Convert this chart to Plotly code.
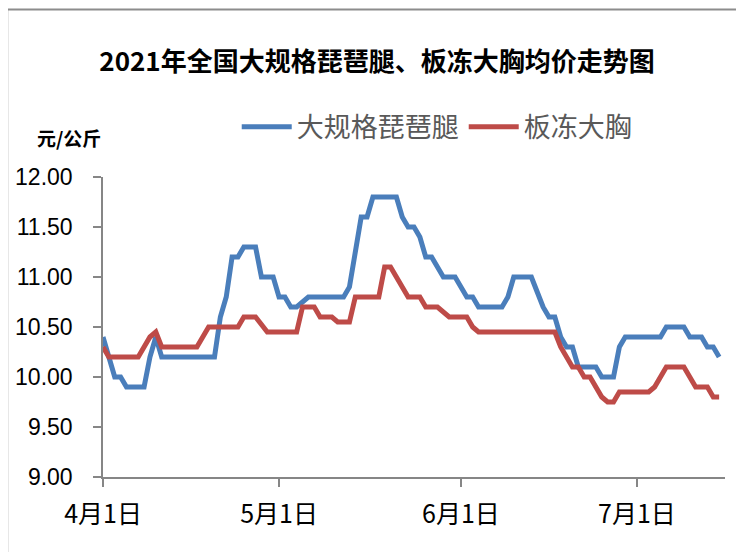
import plotly.graph_objects as go

# 大规格琵琶腿 (blue) – breakpoints
leg_dates = ["2021-04-01", "2021-04-03", "2021-04-04", "2021-04-05", "2021-04-08", "2021-04-09",
             "2021-04-10", "2021-04-11", "2021-04-20", "2021-04-21", "2021-04-22", "2021-04-23",
             "2021-04-24", "2021-04-25", "2021-04-27", "2021-04-28", "2021-04-30", "2021-05-01",
             "2021-05-02", "2021-05-03", "2021-05-04", "2021-05-06", "2021-05-12", "2021-05-13",
             "2021-05-15", "2021-05-16", "2021-05-17", "2021-05-21", "2021-05-22", "2021-05-23",
             "2021-05-24", "2021-05-25", "2021-05-26", "2021-05-27", "2021-05-28", "2021-05-29",
             "2021-05-31", "2021-06-01", "2021-06-02", "2021-06-03", "2021-06-04", "2021-06-08",
             "2021-06-09", "2021-06-10", "2021-06-13", "2021-06-14", "2021-06-15", "2021-06-16",
             "2021-06-17", "2021-06-18", "2021-06-19", "2021-06-20", "2021-06-21", "2021-06-24",
             "2021-06-25", "2021-06-27", "2021-06-28", "2021-06-29", "2021-07-05", "2021-07-06",
             "2021-07-09", "2021-07-10", "2021-07-12", "2021-07-13", "2021-07-14", "2021-07-15"]
leg_values = [10.40, 10.00, 10.00, 9.90, 9.90, 10.20,
              10.40, 10.20, 10.20, 10.60, 10.80, 11.20,
              11.20, 11.30, 11.30, 11.00, 11.00, 10.80,
              10.80, 10.70, 10.70, 10.80, 10.80, 10.90,
              11.60, 11.60, 11.80, 11.80, 11.60, 11.50,
              11.50, 11.40, 11.20, 11.20, 11.10, 11.00,
              11.00, 10.90, 10.80, 10.80, 10.70, 10.70,
              10.80, 11.00, 11.00, 10.85, 10.70, 10.60,
              10.60, 10.40, 10.30, 10.30, 10.10, 10.10,
              10.00, 10.00, 10.30, 10.40, 10.40, 10.50,
              10.50, 10.40, 10.40, 10.30, 10.30, 10.20]

# 板冻大胸 (red)
breast_dates = ["2021-04-01", "2021-04-02", "2021-04-07", "2021-04-09", "2021-04-10", "2021-04-11",
                "2021-04-17", "2021-04-19", "2021-04-24", "2021-04-25", "2021-04-27", "2021-04-29",
                "2021-05-04", "2021-05-05", "2021-05-07", "2021-05-08", "2021-05-10", "2021-05-11",
                "2021-05-13", "2021-05-14", "2021-05-18", "2021-05-19", "2021-05-20", "2021-05-23",
                "2021-05-25", "2021-05-26", "2021-05-28", "2021-05-29", "2021-05-30", "2021-06-02",
                "2021-06-03", "2021-06-04", "2021-06-17", "2021-06-18", "2021-06-20", "2021-06-21",
                "2021-06-22", "2021-06-23", "2021-06-24", "2021-06-25", "2021-06-26", "2021-06-27",
                "2021-06-28", "2021-07-03", "2021-07-04", "2021-07-06", "2021-07-09", "2021-07-11",
                "2021-07-13", "2021-07-14", "2021-07-15"]
breast_values = [10.30, 10.20, 10.20, 10.40, 10.45, 10.30,
                 10.30, 10.50, 10.50, 10.60, 10.60, 10.45,
                 10.45, 10.70, 10.70, 10.60, 10.60, 10.55,
                 10.55, 10.80, 10.80, 11.10, 11.10, 10.80,
                 10.80, 10.70, 10.70, 10.65, 10.60, 10.60,
                 10.50, 10.45, 10.45, 10.30, 10.10, 10.10,
                 10.00, 10.00, 9.90, 9.80, 9.75, 9.75,
                 9.85, 9.85, 9.90, 10.10, 10.10, 9.90,
                 9.90, 9.80, 9.80]

series_names = ["大规格琵琶腿", "板冻大胸"]
x_tick_vals = ["2021-04-01", "2021-05-01", "2021-06-01", "2021-07-01"]
x_tick_text = ["4月1日", "5月1日", "6月1日", "7月1日"]
y_tick_vals = [9.0, 9.5, 10.0, 10.5, 11.0, 11.5, 12.0]
y_tick_text = ["9.00", "9.50", "10.00", "10.50", "11.00", "11.50", "12.00"]

CJK = "Noto Sans CJK SC"

fig = go.Figure()
fig.add_trace(go.Scatter(x=leg_dates, y=leg_values, mode="lines", name=series_names[0],
                         line=dict(color="#4a7ebb", width=5)))
fig.add_trace(go.Scatter(x=breast_dates, y=breast_values, mode="lines", name=series_names[1],
                         line=dict(color="#be4b48", width=5)))

fig.update_layout(
    width=736, height=544,
    margin=dict(l=95, r=19, t=169, b=75),
    paper_bgcolor="white", plot_bgcolor="white",
    title=dict(text="<b>2021年全国大规格琵琶腿、板冻大胸均价走势图</b>",
               x=0.5014, xanchor="center", y=0.9007, yanchor="middle",
               font=dict(family=CJK, size=26, color="#000000")),
    showlegend=True,
    legend=dict(orientation="h", x=0.215, xanchor="left", y=1.166, yanchor="middle",
                font=dict(family=CJK, size=27, color="#595959"),
                itemwidth=50, tracegroupgap=0, bgcolor="rgba(0,0,0,0)"),
    xaxis=dict(type="date", range=["2021-04-01", "2021-07-16"], automargin=False,
               tickmode="array", tickvals=x_tick_vals, ticktext=x_tick_text,
               showgrid=False, zeroline=False, showline=True, linecolor="#868686", linewidth=1.5,
               ticks="outside", ticklen=8, tickcolor="#868686", tickwidth=1.5,
               tickfont=dict(family=CJK, size=25, color="#000000"), ticklabelstandoff=6),
    yaxis=dict(range=[9.0, 12.0], tickmode="array", tickvals=y_tick_vals, ticktext=y_tick_text,
               automargin=False,
               showgrid=False, zeroline=False, showline=True, linecolor="#868686", linewidth=1.5,
               ticks="outside", ticklen=8, tickcolor="#868686", tickwidth=1.5,
               tickfont=dict(family="Liberation Sans", size=23, color="#000000"),
               ticklabelstandoff=16),
    annotations=[dict(text="<b>元/公斤</b>", xref="paper", yref="paper",
                      x=-0.11, y=1.133, xanchor="left", yanchor="middle", showarrow=False,
                      font=dict(family=CJK, size=19, color="#000000"))],
    shapes=[dict(type="rect", xref="paper", yref="paper", x0=-0.154, x1=1.2, y0=-0.6, y1=1.558,
                 line=dict(color="#8c8c8c", width=2), fillcolor="rgba(0,0,0,0)", layer="below")],
)

fig.write_html("out.html")
